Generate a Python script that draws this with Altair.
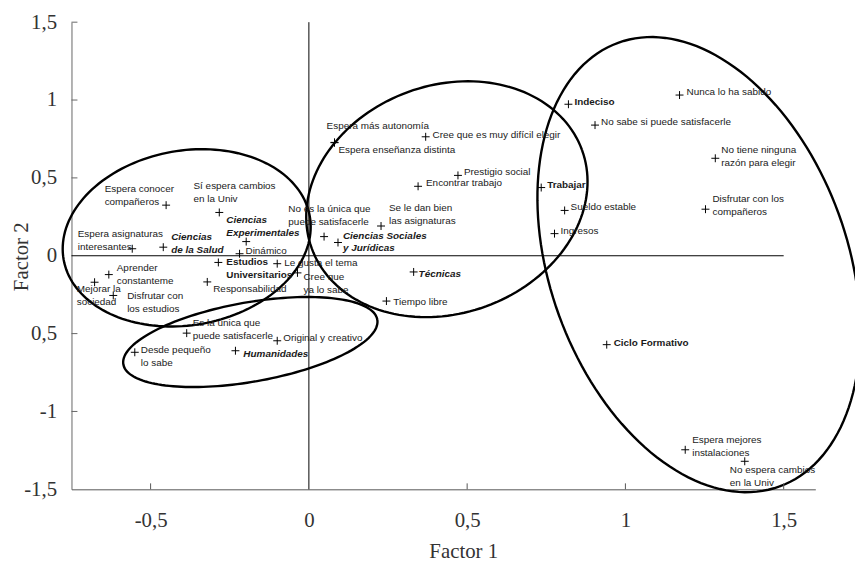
import math
import altair as alt
import pandas as pd

# ---------------- data ----------------
labels = [
    "Espera conocer\ncompañeros", "Sí espera cambios\nen la Univ", "Ciencias\nExperimentales",
    "Dinámico", "Espera asignaturas\ninteresantes", "Ciencias\nde la Salud",
    "Estudios\nUniversitarios", "Le gusta el tema", "Cree que\nya lo sabe",
    "Aprender\nconstanteme", "Mejorar la\nsociedad", "Disfrutar con\nlos estudios",
    "Responsabilidad", "Es la única que\npuede satisfacerle", "Original y creativo",
    "Desde pequeño\nlo sabe", "Humanidades", "Espera más autonomía",
    "Espera enseñanza distinta", "Cree que es muy difícil elegir", "Prestigio social",
    "Encontrar trabajo", "Trabajar", "Se le dan bien\nlas asignaturas",
    "No es la única que\npuede satisfacerle", "Ciencias Sociales\ny Jurídicas", "Técnicas",
    "Tiempo libre", "Indeciso", "Nunca lo ha sabido",
    "No sabe si puede satisfacerle", "No tiene ninguna\nrazón para elegir", "Disfrutar con los\ncompañeros",
    "Sueldo estable", "Ingresos", "Ciclo Formativo",
    "Espera mejores\ninstalaciones", "No espera cambios\nen la Univ",
]
factor1 = [
    -0.451, -0.283, -0.198, -0.219, -0.558, -0.460, -0.286, -0.100, -0.036, -0.632,
    -0.677, -0.618, -0.321, -0.386, -0.100, -0.550, -0.232, 0.081, 0.081, 0.369,
    0.471, 0.345, 0.734, 0.228, 0.048, 0.092, 0.331, 0.245, 0.820, 1.171,
    0.904, 1.284, 1.253, 0.808, 0.776, 0.941, 1.189, 1.377,
]
factor2 = [
    0.325, 0.278, 0.091, 0.013, 0.045, 0.055, -0.043, -0.051, -0.110, -0.121,
    -0.170, -0.255, -0.168, -0.497, -0.546, -0.620, -0.610, 0.728, 0.726, 0.764,
    0.516, 0.446, 0.438, 0.191, 0.123, 0.085, -0.104, -0.291, 0.973, 1.032,
    0.839, 0.626, 0.299, 0.291, 0.142, -0.571, -1.246, -1.320,
]
# n = normal, b = bold, bi = bold italic
label_style = [
    "n", "n", "bi", "n", "n", "bi", "b", "n", "n", "n",
    "n", "n", "n", "n", "n", "n", "bi", "n", "n", "n",
    "n", "n", "b", "n", "n", "bi", "bi", "n", "b", "n",
    "n", "n", "n", "n", "n", "b", "n", "n",
]

x_ticks = [-0.5, 0, 0.5, 1, 1.5]
y_ticks = [-1.5, -1, -0.5, 0, 0.5, 1, 1.5]
x_inner_ticks = [-0.5, 0.5, 1, 1.5]
y_inner_ticks = [1.5, 1, 0.5, -0.5, -1]

# ---------------- layout (label placement, annotation ellipses) ----------------
label_dx = [-62, -26, -20, 6, -55, 8, 8, 7, 6, 8, -18, 14, 6, 6, 6, 6, 8, -8, 4, 7,
            6, 8, 6, 8, -36, 5, 5, 7, 6, 7, 6, 6, 7, 6, 6, 7, 7, -15]
label_dy = [-16, -27, -22, -3, -15, -10, 0, -1, 4, -7, 7, 1, 7, -10, -3, -2, 3, -16, 7, -2,
            -3, -3, -3, -18, -28, -7, 2, 1, -2, -3, -3, -8, -10, -3, -3, -2, -10, 9]
LINE_H = 13

# ellipses: centre (data units), semi-axes (px), rotation (deg)
ell_cx = [-0.386, -0.185, 0.436, 1.232]
ell_cy = [0.115, -0.554, 0.363, -0.057]
ell_a = [126, 130, 145, 238]
ell_b = [88, 40, 115, 150]
ell_rot = [10, 10, 20, -70]

W, H = 750, 471
XD = [-0.75, 1.6]
YD = [-1.5, 1.5]
SX = W / (XD[1] - XD[0])
SY = H / (YD[1] - YD[0])

pts = pd.DataFrame({"f1": factor1, "f2": factor2, "label": labels, "style": label_style})

rows = []
for i, lab in enumerate(labels):
    for j, line in enumerate(lab.split("\n")):
        rows.append({
            "lx": factor1[i] + label_dx[i] / SX,
            "ly": factor2[i] - (label_dy[i] + j * LINE_H) / SY,
            "line": line,
            "style": label_style[i],
        })
txt = pd.DataFrame(rows)

erows = []
N = 160
for k in range(len(ell_cx)):
    th = math.radians(ell_rot[k])
    for s in range(N + 1):
        t = 2 * math.pi * s / N
        u = ell_a[k] * math.cos(t)
        v = ell_b[k] * math.sin(t)
        erows.append({
            "ex": ell_cx[k] + (u * math.cos(th) - v * math.sin(th)) / SX,
            "ey": ell_cy[k] + (u * math.sin(th) + v * math.cos(th)) / SY,
            "eid": k, "ord": s,
        })
ell = pd.DataFrame(erows)

SERIF = "Liberation Serif"
SANS = "Liberation Sans"

xaxis = alt.Axis(values=x_ticks, title="Factor 1", grid=False, ticks=False, tickSize=0,
                 domainColor="#555", domainWidth=1,
                 labelExpr="replace('' + datum.value, '.', ',')",
                 labelFont=SERIF, labelFontSize=21, labelColor="#333", labelPadding=20,
                 titleFont=SERIF, titleFontSize=21, titleFontWeight="normal", titleColor="#333",
                 titleX=395, titleY=69, titleBaseline="alphabetic", titleAlign="center")
yaxis = alt.Axis(values=y_ticks, title="Factor 2", grid=False, ticks=False, tickSize=0,
                 domainColor="#666", domainWidth=1,
                 labelExpr="datum.value == -0.5 ? '0,5' : replace('' + datum.value, '.', ',')",
                 labelFont=SERIF, labelFontSize=21, labelColor="#333", labelPadding=15,
                 titleFont=SERIF, titleFontSize=21, titleFontWeight="normal", titleColor="#333",
                 titleAngle=270, titleX=-44, titleY=236, titleBaseline="alphabetic",
                 titleAlign="center")

xs = alt.Scale(domain=XD, nice=False, zero=False)
ys = alt.Scale(domain=YD, nice=False, zero=False)


def X(f):
    return alt.X(f, type="quantitative", scale=xs, axis=xaxis)


def Y(f):
    return alt.Y(f, type="quantitative", scale=ys, axis=yaxis)


ellipses = alt.Chart(ell).mark_line(color="black", strokeWidth=2.4, clip=False).encode(
    x=X("ex"), y=Y("ey"), detail="eid:N", order="ord:Q")

zero_v = alt.Chart(pd.DataFrame({"v": [0]})).mark_rule(color="black", strokeWidth=1).encode(
    x=X("v"), y=alt.datum(YD[1]), y2=alt.datum(YD[0]))
zero_h = alt.Chart(pd.DataFrame({"v": [0]})).mark_rule(color="black", strokeWidth=1).encode(
    y=Y("v"), x=alt.datum(XD[0]), x2=alt.datum(1.5))

xt = alt.Chart(pd.DataFrame({"v": x_inner_ticks})).mark_rule(color="#555", strokeWidth=1).encode(
    x=X("v"), y=alt.value(H), y2=alt.value(H - 6))
yt = alt.Chart(pd.DataFrame({"v": y_inner_ticks})).mark_rule(color="#666", strokeWidth=1).encode(
    y=Y("v"), x=alt.value(0), x2=alt.value(6))

plus = alt.Chart(pts).mark_point(shape="M-1,0L1,0M0,-1L0,1", size=64, filled=False,
                                 color="black", strokeWidth=1, opacity=1).encode(
    x=X("f1"), y=Y("f2"))

base_txt = alt.Chart(txt)
t_norm = base_txt.transform_filter("datum.style == 'n'").mark_text(
    font=SANS, fontSize=10, align="left", baseline="middle", color="#1a1a1a").encode(
    x=X("lx"), y=Y("ly"), text="line:N")
t_bold = base_txt.transform_filter("datum.style == 'b'").mark_text(
    font=SANS, fontSize=10, fontWeight="bold", align="left", baseline="middle", color="#1a1a1a").encode(
    x=X("lx"), y=Y("ly"), text="line:N")
t_bi = base_txt.transform_filter("datum.style == 'bi'").mark_text(
    font=SANS, fontSize=10, fontWeight="bold", fontStyle="italic", align="left",
    baseline="middle", color="#1a1a1a").encode(
    x=X("lx"), y=Y("ly"), text="line:N")

chart = alt.layer(ellipses, zero_v, zero_h, xt, yt, plus, t_norm, t_bold, t_bi).properties(
    width=W, height=H,
    autosize=alt.AutoSizeParams(type="none"),
    padding={"left": 64, "top": 12, "right": 40, "bottom": 73},
    background="white",
).configure_view(stroke=None)

chart.save("out.html", embed_options={"renderer": "svg", "actions": False})
